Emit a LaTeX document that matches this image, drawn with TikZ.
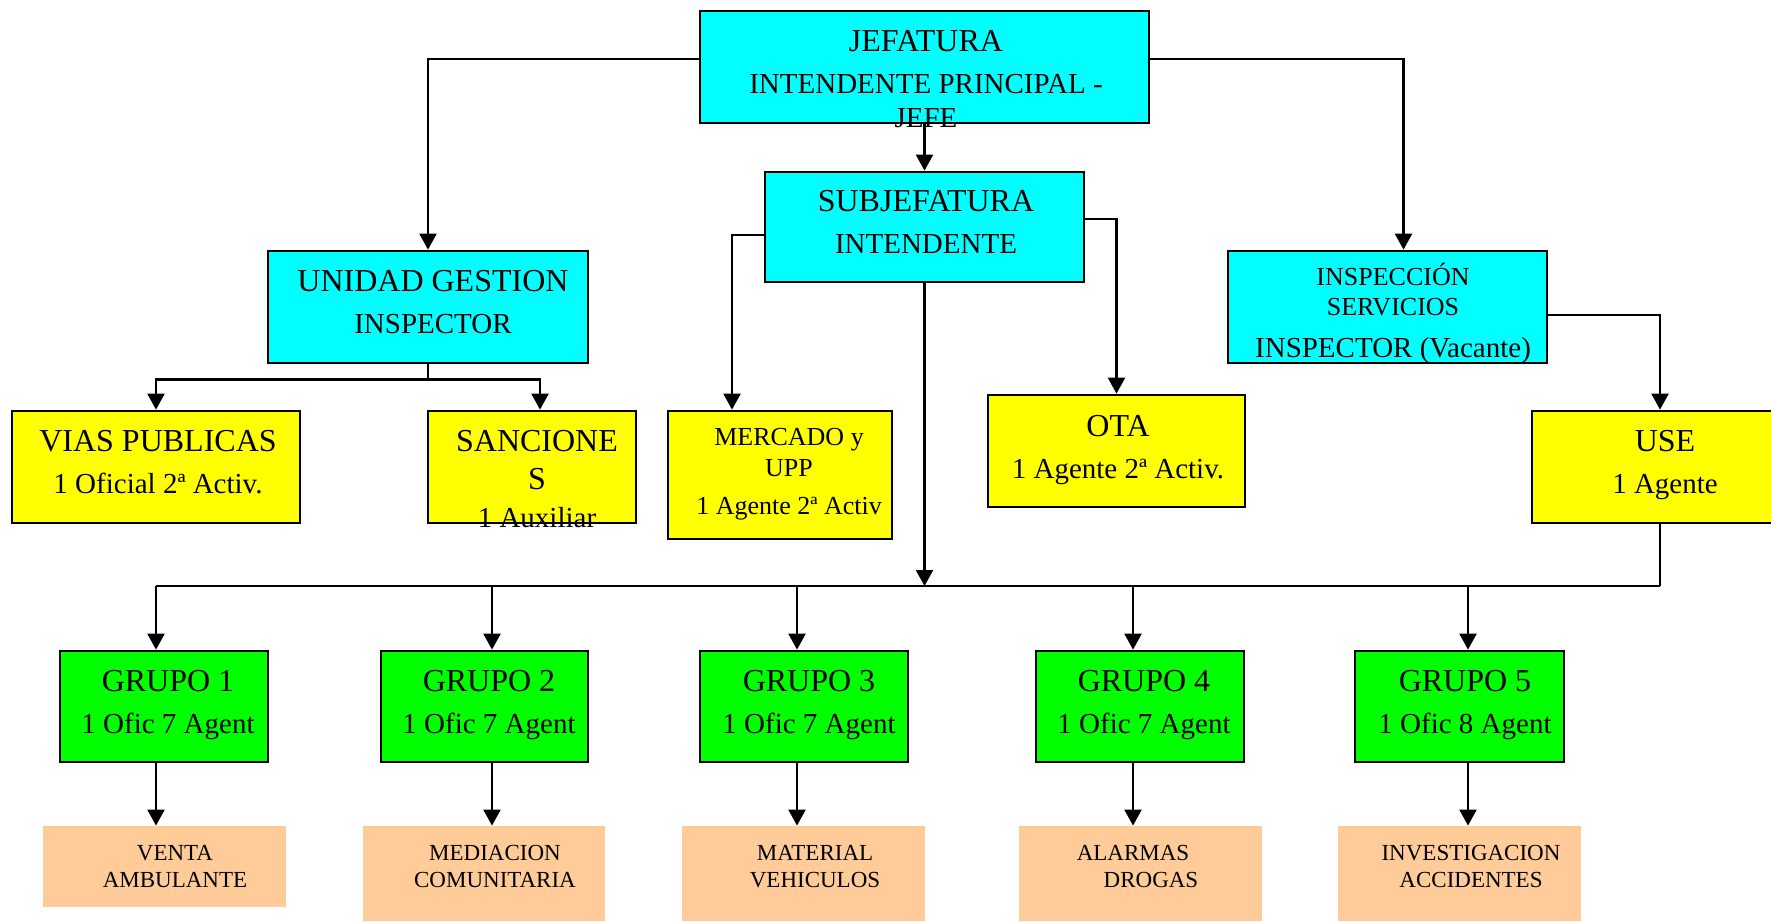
\documentclass[tikz,border=0pt]{standalone}
\usepackage{fontspec}
\setmainfont{Liberation Serif}
\usetikzlibrary{arrows.meta, fit}

\definecolor{jefecyan}{HTML}{00FFFF}
\definecolor{unidadyellow}{HTML}{FFFF00}
\definecolor{grupogreen}{HTML}{00FF00}
\definecolor{tareapeach}{HTML}{FFCC99}

% titulo de cada caja, algo mayor
\newcommand{\titulo}[1]{{\fontsize{16}{21}\selectfont #1}}

\begin{document}
\begin{tikzpicture}[
    x=0.5pt, y=-0.5pt,
    >={Triangle[length=8pt, width=8.5pt]},
    box/.style={draw, line width=1.35pt, inner sep=0pt},
    cyanbox/.style={box, fill=jefecyan},
    yellowbox/.style={box, fill=unidadyellow},
    greenbox/.style={box, fill=grupogreen},
    peachbox/.style={fill=tareapeach, inner sep=0pt},
    txt/.style={align=center, inner sep=0pt, anchor=north, font=\fontsize{14.5}{21}\selectfont},
    smalltxt/.style={txt, font=\fontsize{13}{15.5}\selectfont},
    tinytxt/.style={txt, font=\fontsize{11.5}{13.5}\selectfont},
    link/.style={line width=1.15pt},
    arr/.style={link, ->}
]
\useasboundingbox (0,0) rectangle (1771,921);

% Mandos
\node[cyanbox, fit={(700,11) (1149,123)}] (jef) {};
\node[cyanbox, fit={(765,172) (1084,282)}] (subj) {};
\node[cyanbox, fit={(268,251) (588,363)}] (ug) {};
\node[cyanbox, fit={(1228,251) (1547,363)}] (insp) {};

% Unidades
\node[yellowbox, fit={(12,411) (300,523)}] (vias) {};
\node[yellowbox, fit={(428,411) (636,523)}] (sanc) {};
\node[yellowbox, fit={(668,411) (892,539)}] (merc) {};
\node[yellowbox, fit={(988,395) (1245,507)}] (ota) {};
\node[yellowbox, fit={(1532,411) (1788,523)}] (use) {};

% Grupos
\node[greenbox, fit={(60,651) (268,762)}] (g1) {};
\node[greenbox, fit={(381,651) (588,762)}] (g2) {};
\node[greenbox, fit={(700,651) (908,762)}] (g3) {};
\node[greenbox, fit={(1036,651) (1244,762)}] (g4) {};
\node[greenbox, fit={(1355,651) (1564,762)}] (g5) {};

% Tareas
\node[peachbox, fit={(43,826) (286,907)}] (t1) {};
\node[peachbox, fit={(363,826) (605,921)}] (t2) {};
\node[peachbox, fit={(682,826) (925,921)}] (t3) {};
\node[peachbox, fit={(1019,826) (1262,921)}] (t4) {};
\node[peachbox, fit={(1338,826) (1581,921)}] (t5) {};

% Barras de reparto
\coordinate (ugbus) at ([yshift=-7.5pt]ug.south);
\coordinate (bus) at (924.5,586);
\coordinate (c1) at (156,586);
\coordinate (c2) at (492,586);
\coordinate (c3) at (797,586);
\coordinate (c4) at (1133,586);
\coordinate (c5) at (1468,586);
\coordinate (busR) at (1660,586);

% Conexiones
\draw[arr] ([yshift=4pt]jef.west) -| (ug.north);
\draw[arr] ([yshift=4pt]jef.east) -| ([xshift=8pt]insp.north);
\draw[arr] (jef.south) -- (subj.north);
\draw[arr] ([yshift=-4pt]subj.west) -| ([xshift=-24pt]merc.north);
\draw[arr] ([yshift=4pt]subj.east) -| (ota.north);
\draw[link] (ug.south) -- (ugbus);
\draw[arr] (ugbus) -| (vias.north);
\draw[arr] (ugbus) -| ([xshift=4pt]sanc.north);
\draw[arr] ([yshift=-4pt]insp.east) -| (use.north);
\draw[arr] (subj.south) -- (bus);
\draw[link] (c1) -- (busR);
\draw[link] (use.south) -- (busR);

\draw[arr] (c1) -- (c1 |- g1.north);
\draw[arr] (c2) -- (c2 |- g2.north);
\draw[arr] (c3) -- (c3 |- g3.north);
\draw[arr] (c4) -- (c4 |- g4.north);
\draw[arr] (c5) -- (c5 |- g5.north);

\draw[arr] (c1 |- g1.south) -- (c1 |- t1.north);
\draw[arr] (c2 |- g2.south) -- (c2 |- t2.north);
\draw[arr] (c3 |- g3.south) -- (c3 |- t3.north);
\draw[arr] (c4 |- g4.south) -- (c4 |- t4.north);
\draw[arr] (c5 |- g5.south) -- (c5 |- t5.north);

% Textos
\node[txt] (jefT) at (926,30) {\titulo{JEFATURA}\\INTENDENTE PRINCIPAL -\\[-4pt]JEFE};
\node[txt] (subjT) at (926,190) {\titulo{SUBJEFATURA}\\INTENDENTE};
\node[txt] (ugT) at (433,270) {\titulo{UNIDAD GESTION}\\INSPECTOR};
\node[txt] (inspT) at (1393,268) {{\fontsize{13}{15}\selectfont INSPECCI\smash{Ó}N}\\[-6pt]%
  {\fontsize{13}{15}\selectfont SERVICIOS}\\INSPECTOR (Vacante)};
\node[txt] (viasT) at (158,430) {\titulo{VIAS PUBLICAS}\\1 Oficial 2ª Activ.};
\node[txt] (sancT) at (537,430) {\titulo{SANCIONE}\\[-2pt]\titulo{S}\\[-2pt]1 Auxiliar};
\node[smalltxt] (mercT) at (789,428) {MERCADO y\\UPP\\[3.5pt]1 Agente 2ª Activ};
\node[txt] (otaT) at (1118,415) {\titulo{OTA}\\1 Agente 2ª Activ.};
\node[txt] (useT) at (1665,430) {\titulo{USE}\\1 Agente};

\node[txt] (g1T) at (168,670) {\titulo{GRUPO 1}\\1 Ofic 7 Agent};
\node[txt] (g2T) at (489,670) {\titulo{GRUPO 2}\\1 Ofic 7 Agent};
\node[txt] (g3T) at (809,670) {\titulo{GRUPO 3}\\1 Ofic 7 Agent};
\node[txt] (g4T) at (1144,670) {\titulo{GRUPO 4}\\1 Ofic 7 Agent};
\node[txt] (g5T) at (1465,670) {\titulo{GRUPO 5}\\1 Ofic 8 Agent};

\node[tinytxt] (t1T) at (175,845) {VENTA\\AMBULANTE};
\node[tinytxt] (t2T) at (495,845) {MEDIACION\\COMUNITARIA};
\node[tinytxt] (t3T) at (815,845) {MATERIAL\\VEHICULOS};
\node[tinytxt] (t4T) at (1133,845) {ALARMAS\\\hspace*{18pt}DROGAS};
\node[tinytxt] (t5T) at (1471,845) {INVESTIGACION\\ACCIDENTES};

\end{tikzpicture}
\end{document}
